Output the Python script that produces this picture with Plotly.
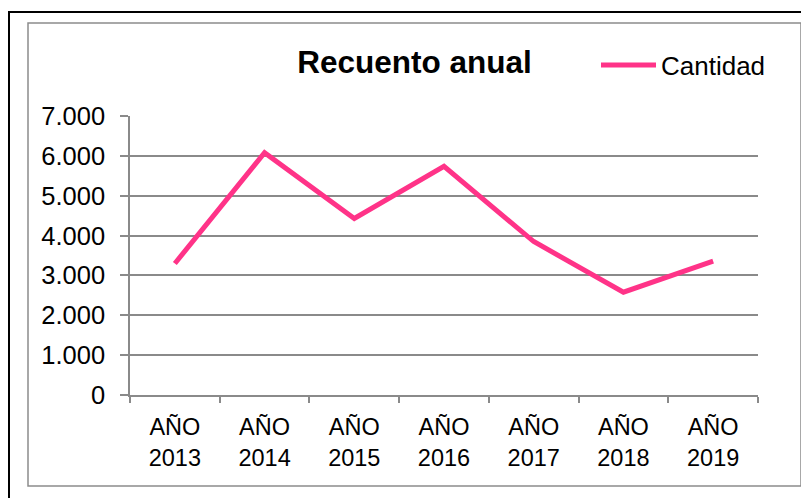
import plotly.graph_objects as go

categories = ["AÑO<br>2013", "AÑO<br>2014", "AÑO<br>2015", "AÑO<br>2016",
              "AÑO<br>2017", "AÑO<br>2018", "AÑO<br>2019"]
cantidad = [3300, 6080, 4430, 5740, 3850, 2580, 3360]
y_ticks = [0, 1000, 2000, 3000, 4000, 5000, 6000, 7000]
y_tick_labels = ["0", "1.000", "2.000", "3.000", "4.000", "5.000", "6.000", "7.000"]

# page has an 8px body margin, so figure coords = page coords - 8
W, H = 801, 490
L, R, T, B = 122, 51, 108, 103
pw, ph = W - L - R, H - T - B


def px(x):
    return (x - L) / pw


def py(y):
    return (H - B - y) / ph


FONT = "Liberation Sans, Arial, sans-serif"
GRID = "#8a8a8a"

fig = go.Figure()
fig.add_trace(go.Scatter(
    x=categories, y=cantidad, mode="lines", name="Cantidad",
    line=dict(color="#FF3388", width=5),
))

fig.update_layout(
    width=W, height=H,
    margin=dict(l=L, r=R, t=T, b=B),
    paper_bgcolor="white", plot_bgcolor="white",
    font=dict(family=FONT, color="black", size=24),
    title=dict(text="<b>Recuento anual</b>", x=406.5 / W, xanchor="center",
               xref="container",
               y=1 - 54 / H, yanchor="middle", yref="container",
               font=dict(family=FONT, size=31.5, color="black")),
    showlegend=True,
    legend=dict(x=px(588), xanchor="left", y=py(57), yanchor="middle",
                bgcolor="rgba(0,0,0,0)", font=dict(family=FONT, size=26),
                itemwidth=55),
    xaxis=dict(
        type="category", range=[-0.5, len(categories) - 0.5],
        tickson="boundaries", ticks="outside", ticklen=6, tickcolor=GRID,
        tickwidth=1.5, showgrid=False, showline=True, linecolor=GRID,
        linewidth=1.5, tickfont=dict(size=23.5), ticklabelstandoff=10,
        fixedrange=True,
    ),
    yaxis=dict(
        range=[0, 7000], tickvals=y_ticks, ticktext=y_tick_labels,
        ticks="outside", ticklen=8, tickcolor=GRID, tickwidth=1.5,
        showgrid=True, gridcolor=GRID, gridwidth=1.5,
        showline=True, linecolor=GRID, linewidth=1.5, zeroline=False,
        tickfont=dict(size=25.5), ticklabelstandoff=10, fixedrange=True,
    ),
    shapes=[
        dict(type="rect", xref="paper", yref="paper",
             x0=px(20), x1=px(793), y0=py(478), y1=py(15),
             line=dict(color="#8c8c8c", width=1.5), layer="below"),
        dict(type="rect", xref="paper", yref="paper",
             x0=px(1), x1=px(830), y0=py(520), y1=py(4),
             line=dict(color="black", width=2), layer="below"),
    ],
)

fig.write_html("out.html")
